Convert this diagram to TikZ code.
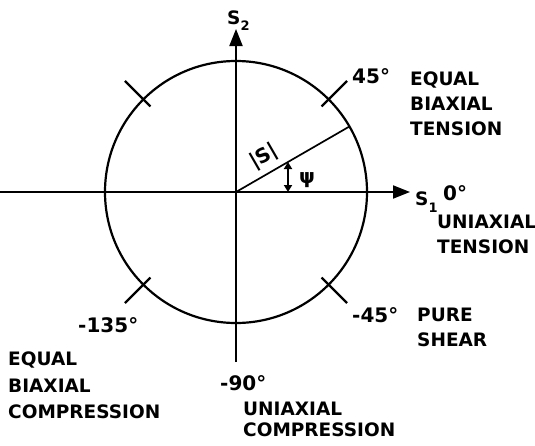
\documentclass[tikz,border=0pt]{standalone}
\usepackage{fontspec}
\setmainfont{DejaVu Sans}
\usetikzlibrary{arrows.meta}
\begin{document}
\begin{tikzpicture}[x=1pt,y=-1pt,
  lbl/.style={font=\fontsize{18.5}{18.5}\selectfont\bfseries, inner sep=0pt, anchor=base west},
  num/.style={font=\fontsize{20}{20}\selectfont\bfseries, inner sep=0pt, anchor=base west},
  axis/.style={line width=2pt, -{Triangle[length=17pt,width=13pt]}},
  thick line/.style={line width=2.2pt},
  psiarrow/.style={line width=1.8pt, {Triangle[length=7pt,width=8pt]}-{Triangle[length=7pt,width=8pt]}}]
\useasboundingbox (0,0) rectangle (535,445);
\coordinate (O) at (236,192);
% circle
\node[circle, draw, thick line, minimum size=262pt, inner sep=0pt] (C) at (O) {};
% axes
\coordinate (xl) at (0,192);
\coordinate (xr) at (410,192);
\coordinate (yb) at (236,362);
\coordinate (yt) at (236,29);
\draw[axis] (xl) -- (xr);
\draw[axis] (yb) -- (yt);
% ticks
\foreach \a/\n in {45/t1,135/t2,-45/t3,-135/t4}{
  \coordinate (\n a) at ([shift={(\a:121)}]O);
  \coordinate (\n b) at ([shift={(\a:157)}]O);
  \draw[thick line] (\n a) -- (\n b);
}
% radius vector at 30 degrees
\coordinate (P) at (349.4,126.5);
\draw[line width=1.7pt] (O) -- (P);
% psi arrow
\coordinate (pa) at (288,192);
\coordinate (pb) at (288,162);
\draw[psiarrow] (pa) -- (pb);
\node[font=\fontsize{20}{20}\selectfont\bfseries, inner sep=0pt] (psi) at (307,180) {ψ};
\node[font=\fontsize{20}{20}\selectfont\bfseries, inner sep=0pt, rotate=30] (S) at (264,157) {|S|};
% axis labels
\node[lbl] (S2) at (227,24) {S\raisebox{-6pt}{\fontsize{13}{13}\selectfont 2}};
\node[lbl] (S1) at (415,205) {S\raisebox{-7pt}{\fontsize{13}{13}\selectfont 1}};
% angle labels
\node[num] (n45) at (352,83) {45°};
\node[num] (n0) at (443,200) {0°};
\node[num] (nm45) at (352,322) {-45°};
\node[num] (nm135) at (78,332) {-135°};
\node[num] (nm90) at (220,390) {-90°};
% descriptions
\node[lbl] (e1) at (410,85) {EQUAL};
\node[lbl] (e2) at (410,110) {BIAXIAL};
\node[lbl] (e3) at (410,135) {TENSION};
\node[lbl] (u1) at (437,228) {UNIAXIAL};
\node[lbl] (u2) at (437,253) {TENSION};
\node[lbl] (p1) at (417,321) {PURE};
\node[lbl] (p2) at (417,346) {SHEAR};
\node[lbl] (c1) at (8,365) {EQUAL};
\node[lbl] (c2) at (8,392) {BIAXIAL};
\node[lbl] (c3) at (8,418) {COMPRESSION};
\node[lbl] (d1) at (243,415) {UNIAXIAL};
\node[lbl] (d2) at (243,436) {COMPRESSION};
\end{tikzpicture}
\end{document}
